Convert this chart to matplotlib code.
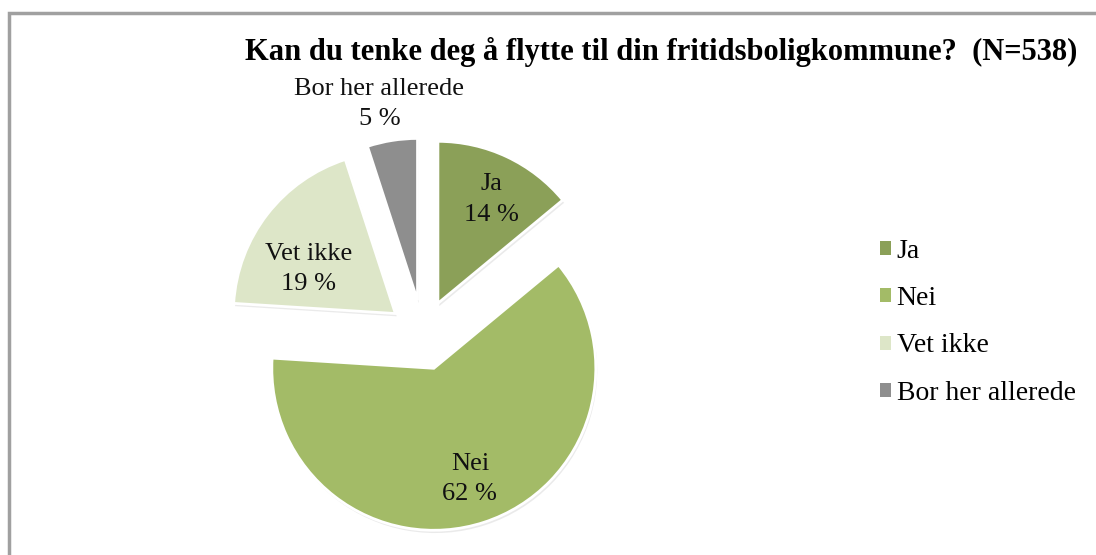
import matplotlib
matplotlib.use("Agg")
import matplotlib.pyplot as plt
import matplotlib.patheffects as pe
import numpy as np
from matplotlib.patches import Rectangle, Patch

categories = ["Ja", "Nei", "Vet ikke", "Bor her allerede"]
values = [14, 62, 19, 5]
colors = ["#8BA058", "#A3BB67", "#DDE6C8", "#8E8E8E"]
title = "Kan du tenke deg å flytte til din fritidsboligkommune?  (N=538)"

W, H = 1096, 555
fig = plt.figure(figsize=(W / 100, H / 100), dpi=100)
ax = fig.add_axes([0, 0, 1, 1])

# border
fig.patches.append(Rectangle((9 / W, -0.05), 1.2, (H - 13) / H + 0.05, transform=fig.transFigure,
                             fill=False, edgecolor="#A0A0A0", linewidth=2.5))

serif = ["Liberation Serif", "DejaVu Serif"]
R = 162
cx, cy = 423, H - 335
wedges, _ = ax.pie(values, colors=colors, startangle=90, counterclock=False,
                   radius=R, center=(cx, cy), explode=[35] * 4,
                   wedgeprops=dict(edgecolor="white", linewidth=2),
                   frame=True)
for w in wedges:
    w.set_path_effects([pe.SimplePatchShadow(offset=(1, -2), shadow_rgbFace="#999999", alpha=0.2),
                        pe.Normal()])
ax.set_xlim(0, W)
ax.set_ylim(0, H)
ax.set_aspect("equal")
ax.axis("off")

dists = [0.72, 0.72, 0.60, 1.235]
dangle = [-2, 0, 10.5, 2]
for w, cat, v, d, da in zip(wedges, categories, values, dists, dangle):
    tm = np.deg2rad((w.theta1 + w.theta2) / 2 + da)
    x0, y0 = w.center
    ax.text(x0 + d * R * np.cos(tm), y0 + d * R * np.sin(tm), f"{cat}\n{v} %",
            ha="center", va="center", fontsize=19, family=serif, linespacing=1.5,
            color="#111111")

fig.text(661 / W, 1 - 52 / H, title, ha="center", va="center", fontsize=22,
         fontweight="bold", family=serif)

handles = [Patch(facecolor=c, edgecolor="none") for c in colors]
leg = fig.legend(handles, categories, loc="upper left", bbox_to_anchor=(855 / W, 1 - 214 / H),
                 frameon=False, prop=dict(family=serif, size=20), handlelength=0.4,
                 handleheight=0.4, handletextpad=0.2, labelspacing=0.80)

fig.savefig("out.png", dpi=100)
